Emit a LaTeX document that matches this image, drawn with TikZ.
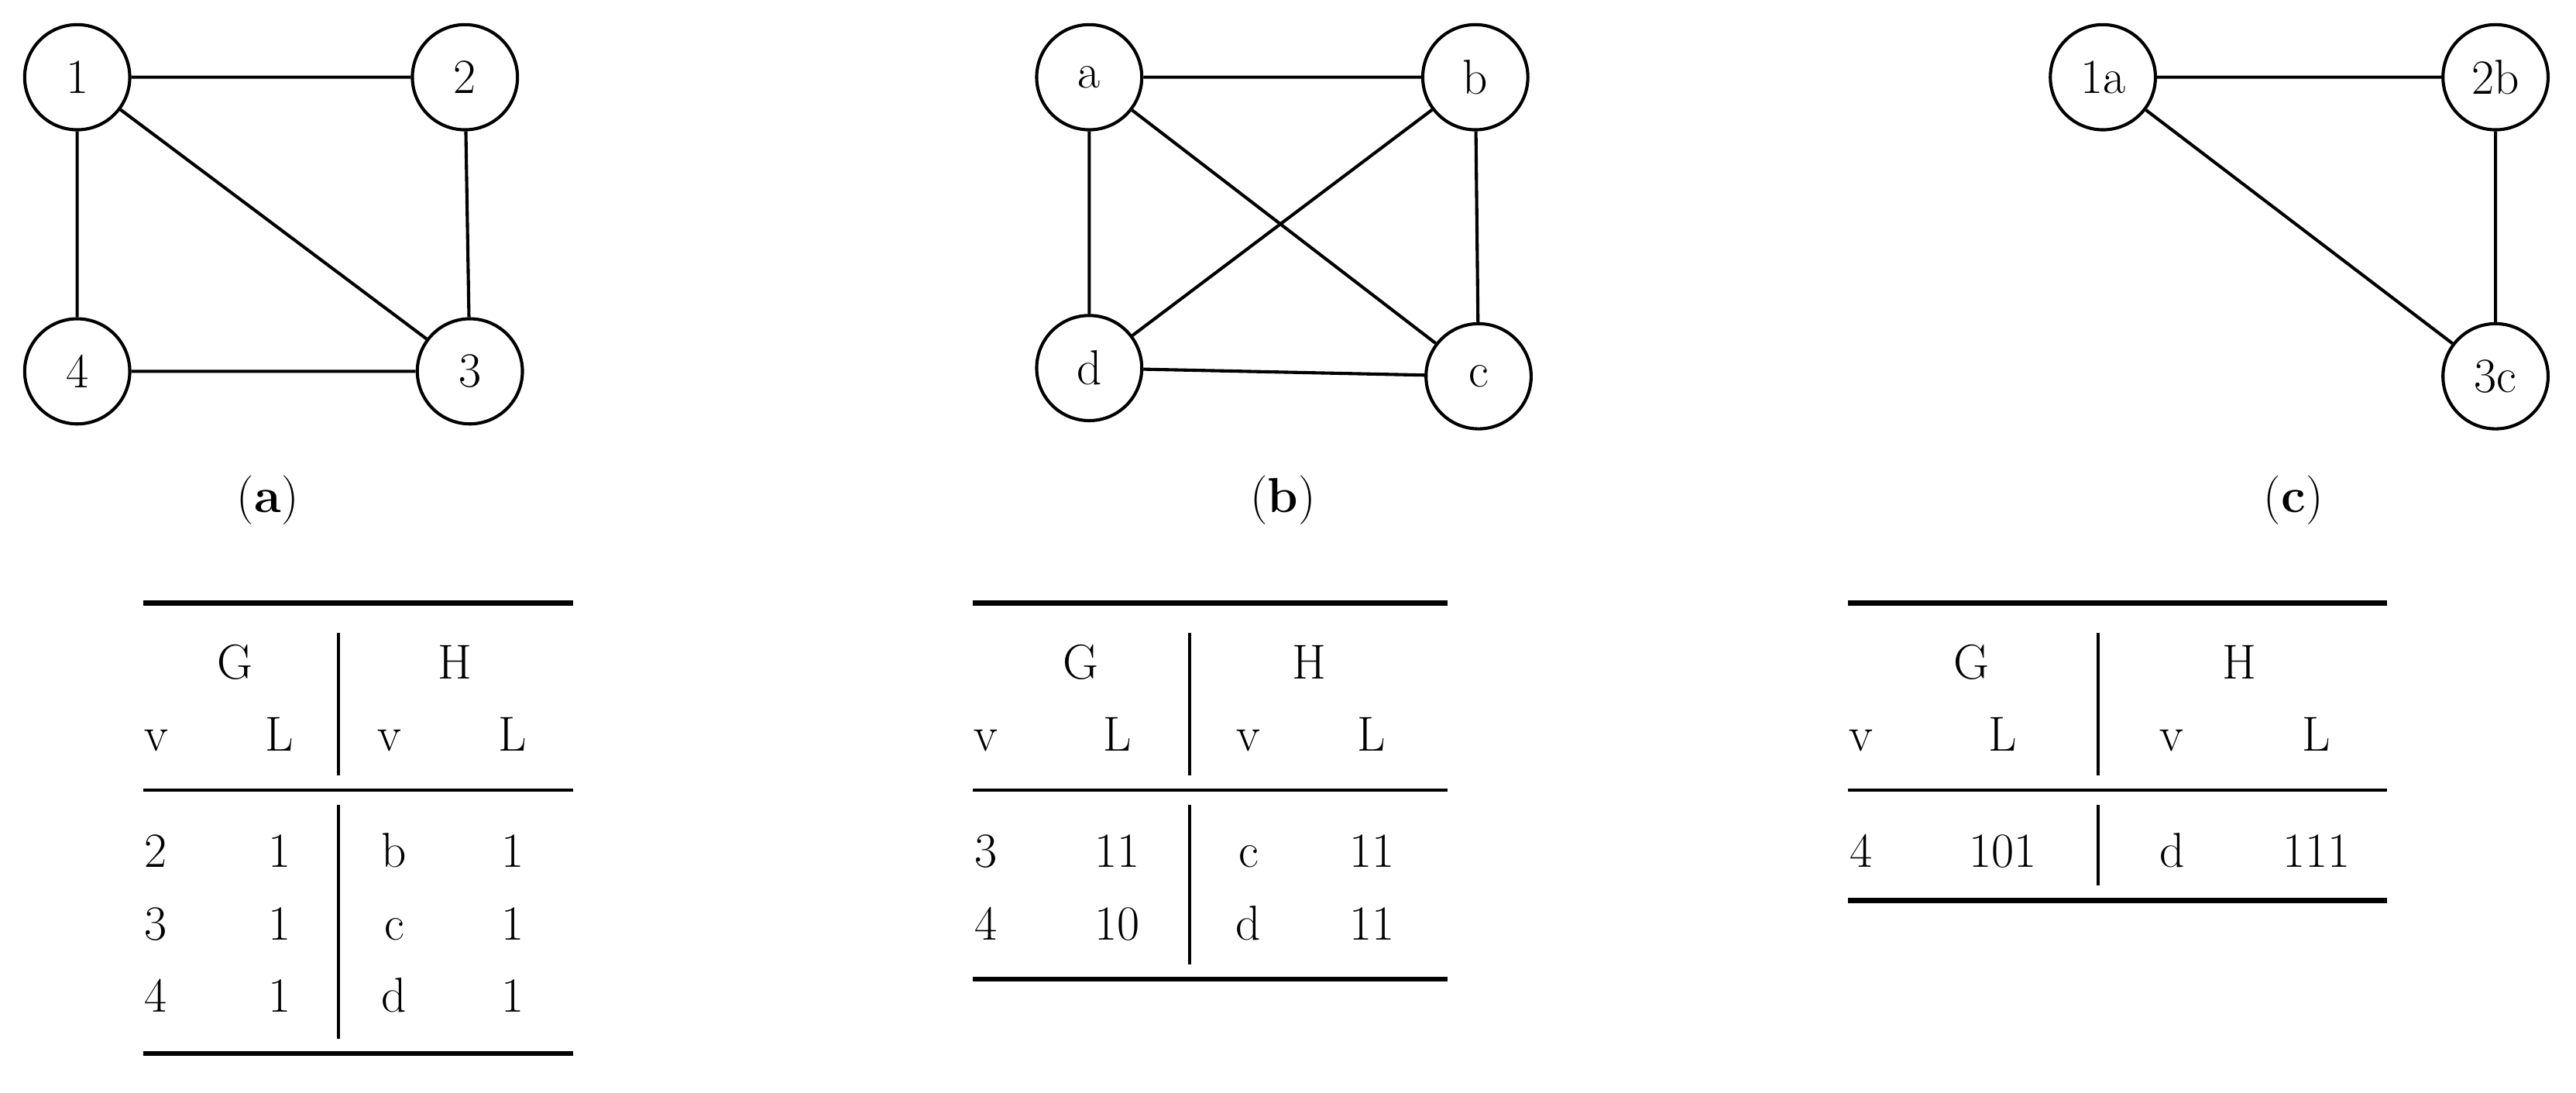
\documentclass[tikz,border=0pt]{standalone}
\begin{document}
\begin{tikzpicture}[x=0.02cm,y=-0.02cm,
  vert/.style={circle,draw,line width=1.1pt,minimum size=1.28cm,inner sep=0pt,font=\fontsize{17}{20}\selectfont},
  edge/.style={line width=1.1pt},
  txt/.style={font=\fontsize{17}{20}\selectfont,inner sep=0pt,anchor=base},
  heavy/.style={line width=1.7pt},
  light/.style={line width=1.1pt},
  vl/.style={line width=1pt}]
\useasboundingbox (0,0) rectangle (1568,665);
% (a)
\node[vert] (n1) at (47,47) {1};
\node[vert] (n2) at (283,47) {2};
\node[vert] (n4) at (47,226) {4};
\node[vert] (n3) at (286,226) {3};
\draw[edge] (n1)--(n2) (n1)--(n4) (n1)--(n3) (n2)--(n3) (n4)--(n3);
% (b)
\node[vert] (na) at (663,47) {a};
\node[vert] (nb) at (898,47) {b};
\node[vert] (nd) at (663,224) {d};
\node[vert] (nc) at (900,229) {c};
\draw[edge] (na)--(nb) (na)--(nd) (na)--(nc) (nb)--(nd) (nb)--(nc) (nd)--(nc);
% (c)
\node[vert] (m1) at (1280,47) {1a};
\node[vert] (m2) at (1519,47) {2b};
\node[vert] (m3) at (1519,229) {3c};
\draw[edge] (m1)--(m2) (m1)--(m3) (m2)--(m3);
% captions
\node[txt] (ca) at (163,312) {(\textbf{a})};
\node[txt] (cb) at (781,312) {(\textbf{b})};
\node[txt] (cc) at (1396,312) {(\textbf{c})};
% table a
\draw[heavy] (87,367)--(349,367);
\draw[light] (87,481)--(349,481);
\draw[heavy] (87,641)--(349,641);
\draw[vl] (206,385)--(206,472) (206,490)--(206,632);
\node[txt] at (143,413) {G}; \node[txt] at (277,413) {H};
\node[txt] at (95,457) {v}; \node[txt] at (170,457) {L}; \node[txt] at (237,457) {v}; \node[txt] at (312,457) {L};
\foreach \y/\a/\b in {528/2/b,572/3/c,616/4/d}{
 \node[txt] at (95,\y) {\a}; \node[txt] at (170,\y) {1}; \node[txt] at (240,\y) {\b}; \node[txt] at (312,\y) {1};}
% table b
\draw[heavy] (592,367)--(881,367);
\draw[light] (592,481)--(881,481);
\draw[heavy] (592,596)--(881,596);
\draw[vl] (724,385)--(724,472) (724,490)--(724,587);
\node[txt] at (658,413) {G}; \node[txt] at (797,413) {H};
\node[txt] at (600,457) {v}; \node[txt] at (680,457) {L}; \node[txt] at (760,457) {v}; \node[txt] at (835,457) {L};
\node[txt] at (600,528) {3}; \node[txt] at (680,528) {11}; \node[txt] at (760,528) {c}; \node[txt] at (835,528) {11};
\node[txt] at (600,572) {4}; \node[txt] at (680,572) {10}; \node[txt] at (760,572) {d}; \node[txt] at (835,572) {11};
% table c
\draw[heavy] (1125,367)--(1453,367);
\draw[light] (1125,481)--(1453,481);
\draw[heavy] (1125,548)--(1453,548);
\draw[vl] (1277,385)--(1277,472) (1277,490)--(1277,539);
\node[txt] at (1200,413) {G}; \node[txt] at (1363,413) {H};
\node[txt] at (1133,457) {v}; \node[txt] at (1219,457) {L}; \node[txt] at (1322,457) {v}; \node[txt] at (1410,457) {L};
\node[txt] at (1133,528) {4}; \node[txt] at (1219,528) {101}; \node[txt] at (1322,528) {d}; \node[txt] at (1410,528) {111};
\end{tikzpicture}
\end{document}
